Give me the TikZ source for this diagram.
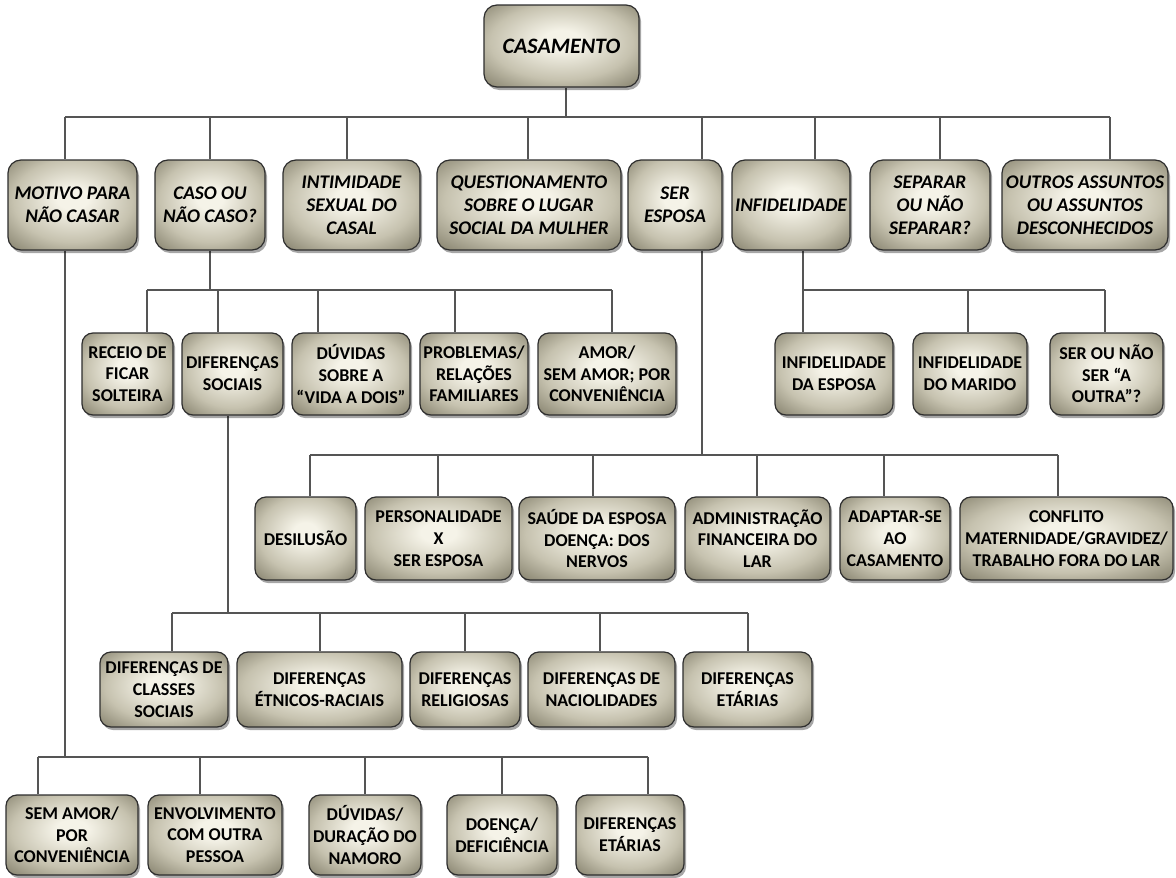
\documentclass[tikz,border=0pt]{standalone}
\usepackage{fontspec}
\setmainfont{Carlito}
\usetikzlibrary{shadows}
\definecolor{boxin}{HTML}{F5F3E8}
\definecolor{boxmid}{HTML}{C6C2AF}
\definecolor{boxout}{HTML}{87836F}
\definecolor{boxline}{HTML}{2E2E2E}
\definecolor{conncol}{HTML}{555555}
\pgfdeclarelayer{back}\pgfdeclarelayer{bg}\pgfsetlayers{back,bg,main}
\pgfdeclareradialshading{boxshade}{\pgfpoint{0bp}{4bp}}{color(0bp)=(boxin); color(6bp)=(boxin); color(23bp)=(boxmid); color(36bp)=(boxout); color(60bp)=(boxout)}
\newcommand\fTop{\bfseries\itshape\fontsize{22}{26}\selectfont}
\newcommand\fOne{\bfseries\itshape\fontsize{19.3}{23}\selectfont}
\newcommand\fTwo{\bfseries\fontsize{18}{21.7}\selectfont}
\tikzset{
  box/.style={draw=boxline, line width=1.2pt, rounded corners=13pt, shading=boxshade,
    align=center, inner sep=0pt, text=black,
    drop shadow={shadow xshift=2pt, shadow yshift=-3pt, opacity=0.35, fill=black}},
  topbox/.style={box, font=\fTop},
  onebox/.style={box, font=\fOne, minimum height=90pt},
  twobox/.style={box, font=\fTwo, rounded corners=11pt},
  conn/.style={draw=conncol, line width=1.4pt}
}
\begin{document}
\begin{tikzpicture}[x=1pt,y=-1pt]
\begin{pgfonlayer}{back}
\fill[white] (0,0) rectangle (1176,878);
\end{pgfonlayer}
\useasboundingbox (0,0) rectangle (1176,878);

% root
\node[topbox, minimum width=155pt, minimum height=82pt] (root) at (561.5,46) {CASAMENTO};

% row 1
\node[onebox, minimum width=129pt] (m1) at (72.5,205) {MOTIVO PARA\\NÃO CASAR};
\node[onebox, minimum width=110pt] (m2) at (210,205) {CASO OU\\NÃO CASO?};
\node[onebox, minimum width=137pt] (m3) at (351.5,205) {INTIMIDADE\\SEXUAL DO\\CASAL};
\node[onebox, minimum width=184pt] (m4) at (529,205) {QUESTIONAMENTO\\SOBRE O LUGAR\\SOCIAL DA MULHER};
\node[onebox, minimum width=94pt] (m5) at (675,205) {SER\\ESPOSA};
\node[onebox, minimum width=118pt] (m6) at (791,205) {INFIDELIDADE};
\node[onebox, minimum width=120pt] (m7) at (930,205) {SEPARAR\\OU NÃO\\SEPARAR?};
\node[onebox, minimum width=166pt] (m8) at (1085,205) {OUTROS ASSUNTOS\\OU ASSUNTOS\\DESCONHECIDOS};

% row 2: caso children
\node[twobox, minimum width=91pt, minimum height=82pt] (c1) at (127.5,374) {RECEIO DE\\FICAR\\SOLTEIRA};
\node[twobox, minimum width=101pt, minimum height=82pt] (c2) at (232.5,374) {DIFERENÇAS\\SOCIAIS};
\node[twobox, minimum width=118pt, minimum height=82pt] (c3) at (351,374) {DÚVIDAS\\SOBRE A\\“VIDA A DOIS”};
\node[twobox, minimum width=108pt, minimum height=82pt] (c4) at (474,374) {PROBLEMAS/\\RELAÇÕES\\FAMILIARES};
\node[twobox, minimum width=138pt, minimum height=82pt] (c5) at (607,374) {AMOR/\\SEM AMOR; POR\\CONVENIÊNCIA};

% row 2: infidelidade children
\node[twobox, minimum width=118pt, minimum height=82pt] (i1) at (834,374) {INFIDELIDADE\\DA ESPOSA};
\node[twobox, minimum width=114pt, minimum height=82pt] (i2) at (970,374) {INFIDELIDADE\\DO MARIDO};
\node[twobox, minimum width=113pt, minimum height=82pt] (i3) at (1106.5,374) {SER OU NÃO\\SER “A\\OUTRA”?};

% row 3: ser esposa children
\node[twobox, minimum width=101pt, minimum height=83pt] (s1) at (305.5,538.5) {DESILUSÃO};
\node[twobox, minimum width=147pt, minimum height=83pt] (s2) at (438.5,538.5) {PERSONALIDADE\\X\\SER ESPOSA};
\node[twobox, minimum width=156pt, minimum height=83pt] (s3) at (597,538.5) {SAÚDE DA ESPOSA\\DOENÇA: DOS\\NERVOS};
\node[twobox, minimum width=145pt, minimum height=83pt] (s4) at (757.5,538.5) {ADMINISTRAÇÃO\\FINANCEIRA DO\\LAR};
\node[twobox, minimum width=110pt, minimum height=83pt] (s5) at (895,538.5) {ADAPTAR-SE\\AO\\CASAMENTO};
\node[twobox, minimum width=213pt, minimum height=83pt] (s6) at (1066.5,538.5) {CONFLITO\\MATERNIDADE/GRAVIDEZ/\\TRABALHO FORA DO LAR};

% row 4: diferencas sociais children
\node[twobox, minimum width=128pt, minimum height=75pt] (d1) at (164,689.5) {DIFERENÇAS DE\\CLASSES\\SOCIAIS};
\node[twobox, minimum width=165pt, minimum height=75pt] (d2) at (319.5,689.5) {DIFERENÇAS\\ÉTNICOS-RACIAIS};
\node[twobox, minimum width=110pt, minimum height=75pt] (d3) at (465,689.5) {DIFERENÇAS\\RELIGIOSAS};
\node[twobox, minimum width=147pt, minimum height=75pt] (d4) at (601.5,689.5) {DIFERENÇAS DE\\NACIOLIDADES};
\node[twobox, minimum width=129pt, minimum height=75pt] (d5) at (747.5,689.5) {DIFERENÇAS\\ETÁRIAS};

% row 5: motivo children
\node[twobox, minimum width=132pt, minimum height=80pt] (v1) at (72,835) {SEM AMOR/\\POR\\CONVENIÊNCIA};
\node[twobox, minimum width=134pt, minimum height=80pt] (v2) at (215,835) {ENVOLVIMENTO\\COM OUTRA\\PESSOA};
\node[twobox, minimum width=112pt, minimum height=80pt] (v3) at (365,835) {DÚVIDAS/\\DURAÇÃO DO\\NAMORO};
\node[twobox, minimum width=110pt, minimum height=80pt] (v4) at (502,835) {DOENÇA/\\DEFICIÊNCIA};
\node[twobox, minimum width=108pt, minimum height=80pt] (v5) at (630,835) {DIFERENÇAS\\ETÁRIAS};

\begin{pgfonlayer}{bg}
% root to row 1
\coordinate (j0) at (566,117);
\draw[conn] (root.south -| j0) -- (j0);
\coordinate (b0L) at (65,117); \coordinate (b0R) at (1110,117);
\draw[conn] (b0L) -- (b0R);
\foreach \x/\n [count=\i] in {65/m1,210/m2,347/m3,528/m4,702/m5,815/m6,940/m7,1110/m8}{
  \coordinate (a\i) at (\x,117);
  \draw[conn] (a\i) -- (a\i |- \n.north);
}
% caso
\coordinate (j2) at (210,290);
\draw[conn] (m2.south -| j2) -- (j2);
\coordinate (b2L) at (147,290); \coordinate (b2R) at (612,290);
\draw[conn] (b2L) -- (b2R);
\foreach \x/\n [count=\i] in {147/c1,218/c2,318/c3,455/c4,612/c5}{
  \coordinate (cc\i) at (\x,290);
  \draw[conn] (cc\i) -- (cc\i |- \n.north);
}
% infidelidade
\coordinate (j6) at (803,290);
\draw[conn] (m6.south -| j6) -- (j6);
\coordinate (b6R) at (1105,290);
\draw[conn] (j6) -- (b6R);
\foreach \x/\n [count=\i] in {803/i1,968/i2,1105/i3}{
  \coordinate (ii\i) at (\x,290);
  \draw[conn] (ii\i) -- (ii\i |- \n.north);
}
% ser esposa
\coordinate (j5) at (702,455);
\draw[conn] (m5.south -| j5) -- (j5);
\coordinate (b5L) at (310,455); \coordinate (b5R) at (1058,455);
\draw[conn] (b5L) -- (b5R);
\foreach \x/\n [count=\i] in {310/s1,438/s2,593/s3,757/s4,884/s5,1058/s6}{
  \coordinate (ss\i) at (\x,455);
  \draw[conn] (ss\i) -- (ss\i |- \n.north);
}
% diferencas sociais
\coordinate (jd) at (228,613);
\draw[conn] (c2.south -| jd) -- (jd);
\coordinate (bdL) at (172,613); \coordinate (bdR) at (748,613);
\draw[conn] (bdL) -- (bdR);
\foreach \x/\n [count=\i] in {172/d1,320/d2,465/d3,600/d4,748/d5}{
  \coordinate (dd\i) at (\x,613);
  \draw[conn] (dd\i) -- (dd\i |- \n.north);
}
% motivo
\coordinate (jm) at (65,757);
\draw[conn] (m1.south -| jm) -- (jm);
\coordinate (bmL) at (38,757); \coordinate (bmR) at (648,757);
\draw[conn] (bmL) -- (bmR);
\foreach \x/\n [count=\i] in {38/v1,200/v2,365/v3,502/v4,648/v5}{
  \coordinate (vv\i) at (\x,757);
  \draw[conn] (vv\i) -- (vv\i |- \n.north);
}
\end{pgfonlayer}
\end{tikzpicture}
\end{document}
